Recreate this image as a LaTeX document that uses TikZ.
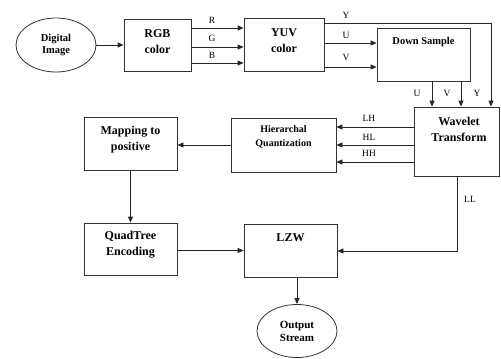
\documentclass[tikz,border=0pt]{standalone}
\usepackage{fontspec}
\setmainfont{Liberation Serif}
\usetikzlibrary{shapes.geometric,arrows.meta}
\begin{document}
\begin{tikzpicture}[x=1pt,y=-1pt,
  box/.style={draw=black!80, line width=0.8pt, rectangle, inner sep=0pt},
  oval/.style={draw=black!80, line width=0.8pt, ellipse, inner sep=0pt, align=center, font=\bfseries\fontsize{10.5}{12.5}\selectfont},
  boxtext/.style={align=center, font=\bfseries\fontsize{12}{16}\selectfont, inner sep=0pt},
  smalltext/.style={align=center, font=\bfseries\fontsize{10}{14}\selectfont, inner sep=0pt},
  lbl/.style={font=\fontsize{9.5}{10}\selectfont, inner sep=0pt},
  arr/.style={draw=black!85, line width=0.8pt, -{Triangle[length=6pt,width=5pt]}},
  ln/.style={draw=black!85, line width=0.8pt}]
\useasboundingbox (0,0) rectangle (501,359);
% shapes
\node[oval, minimum width=80pt, minimum height=54pt] (img) at (56,45) {Digital\\Image};
\node[box, minimum width=67pt, minimum height=52pt] (rgb) at (157.5,45) {};
\node[box, minimum width=80pt, minimum height=53pt] (yuv) at (284,44.5) {};
\node[box, minimum width=93pt, minimum height=53pt] (ds) at (423.5,54.5) {};
\node[box, minimum width=85pt, minimum height=69pt] (wav) at (456.5,141.5) {};
\node[box, minimum width=105pt, minimum height=54pt] (hq) at (283.5,145) {};
\node[box, minimum width=93pt, minimum height=53pt] (map) at (130.5,143.5) {};
\node[box, minimum width=93pt, minimum height=52pt] (qt) at (130.5,249) {};
\node[box, minimum width=93pt, minimum height=53pt] (lzw) at (290.5,250.5) {};
\node[oval, font=\bfseries\fontsize{11}{13}\selectfont, minimum width=80pt, minimum height=53pt] (out) at (297,331) {Output\\Stream};
% texts
\node[boxtext] (rgbt) at (157.5,41.5) {RGB\\color};
\node[boxtext] (yuvt) at (284,40.5) {YUV\\color};
\node[smalltext, font=\bfseries\fontsize{10.5}{14}\selectfont] (dst) at (423.5,42) {Down Sample};
\node[boxtext] (wavt) at (459,129.5) {Wavelet\\Transform};
\node[smalltext] (hqt) at (283.5,136.5) {Hierarchal\\Quantization};
\node[boxtext] (mapt) at (130.5,139.5) {Mapping to\\positive};
\node[boxtext] (qtt) at (130.5,245) {QuadTree\\Encoding};
\node[boxtext] (lzwt) at (290.5,238) {LZW};
% connectors
\draw[arr] (img.east) -- (rgb.west);
\draw[arr] ([yshift=17pt]rgb.east) -- ([yshift=17pt]rgb.east -| yuv.west);
\draw[arr] ([yshift=-2pt]rgb.east) -- ([yshift=-2pt]rgb.east -| yuv.west);
\draw[arr] ([yshift=-18pt]rgb.east) -- ([yshift=-18pt]rgb.east -| yuv.west);
\coordinate (yc) at (491,23);
\draw[arr] ([yshift=21.5pt]yuv.east) -- (yc) -- (yc |- wav.north);
\draw[arr] ([yshift=1.5pt]yuv.east) -- ([yshift=1.5pt]yuv.east -| ds.west);
\draw[arr] ([yshift=-22.5pt]yuv.east) -- ([yshift=-22.5pt]yuv.east -| ds.west);
\draw[arr] ([xshift=8.5pt]ds.south) -- ([xshift=8.5pt]ds.south |- wav.north);
\draw[arr] ([xshift=37.5pt]ds.south) -- ([xshift=37.5pt]ds.south |- wav.north);
\draw[arr] ([yshift=14.5pt]wav.west) -- ([yshift=14.5pt]wav.west -| hq.east);
\draw[arr] ([yshift=-3.5pt]wav.west) -- ([yshift=-3.5pt]wav.west -| hq.east);
\draw[arr] ([yshift=-20.5pt]wav.west) -- ([yshift=-20.5pt]wav.west -| hq.east);
\draw[arr] (hq.west) -- (hq.west -| map.east);
\draw[arr] (map.south) -- (qt.north);
\draw[arr] (lzw.west -| qt.east) -- (lzw.west);
\coordinate (llc) at (457,251);
\draw[arr] (llc |- wav.south) -- (llc) -- (llc -| lzw.east);
\draw[arr] (out.north |- lzw.south) -- (out.north);
% labels
\node[lbl] (lr) at (212,20) {R};
\node[lbl] (lg) at (212,38) {G};
\node[lbl] (lb) at (212,55) {B};
\node[lbl] (ly) at (346,15) {Y};
\node[lbl] (lu) at (346,35) {U};
\node[lbl] (lv) at (346,57) {V};
\node[lbl] (lu2) at (417,93) {U};
\node[lbl] (lv2) at (447,93) {V};
\node[lbl] (ly2) at (477,93) {Y};
\node[lbl] (llh) at (369,118) {LH};
\node[lbl] (lhl) at (369,137) {HL};
\node[lbl] (lhh) at (369,153) {HH};
\node[lbl] (lll) at (470,199) {LL};
\end{tikzpicture}
\end{document}
